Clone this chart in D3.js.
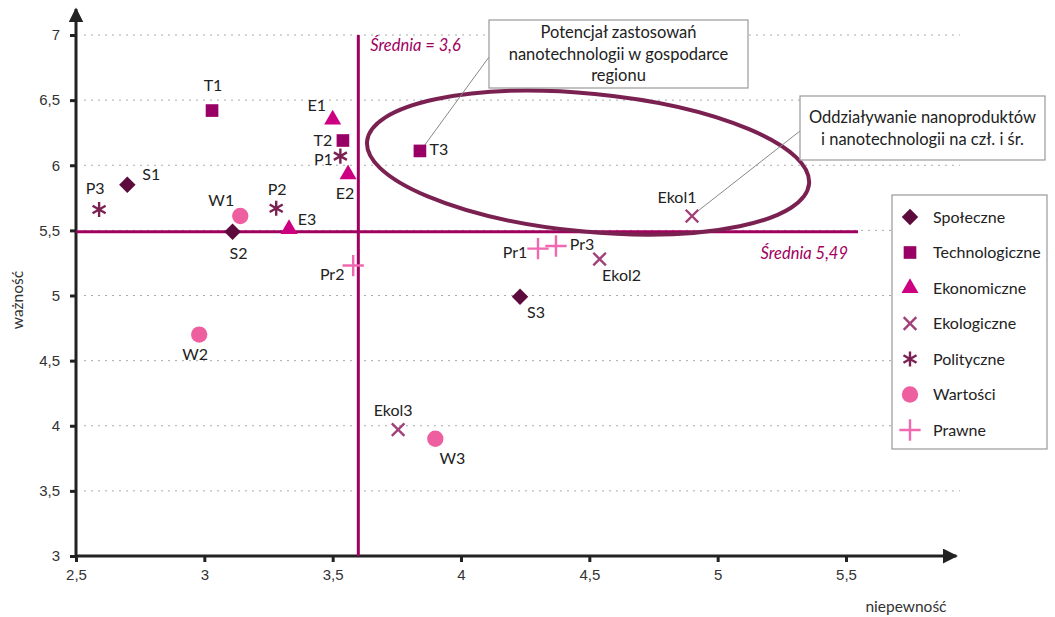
<!DOCTYPE html>
<html>
<head>
<meta charset="utf-8">
<script src="https://cdn.jsdelivr.net/npm/d3@7"></script>
<style>
  body { margin: 0; background: #fff; }
  svg { font-family: Lato, "Open Sans", sans-serif; }
  .tick text { font-size: 15px; fill: #333; }
</style>
</head>
<body>
<svg id="chart" width="1055" height="617"></svg>
<script>
// groups (legend order)
var groups = ["Społeczne", "Technologiczne", "Ekonomiczne", "Ekologiczne", "Polityczne", "Wartości", "Prawne"];

// points: label, group, niepewność, ważność
var labels = ["S1", "S2", "S3", "T1", "T2", "T3", "E1", "E2", "E3", "Ekol1", "Ekol2", "Ekol3",
              "P1", "P2", "P3", "W1", "W2", "W3", "Pr1", "Pr2", "Pr3"];
var pointGroups = [0, 0, 0, 1, 1, 1, 2, 2, 2, 3, 3, 3, 4, 4, 4, 5, 5, 5, 6, 6, 6];
var niepewnosc = [2.70, 3.11, 4.23, 3.03, 3.54, 3.84, 3.50, 3.56, 3.33, 4.90, 4.54, 3.755,
                  3.53, 3.28, 2.59, 3.14, 2.98, 3.90, 4.30, 3.58, 4.37];
var waznosc = [5.85, 5.49, 4.99, 6.42, 6.19, 6.11, 6.35, 5.93, 5.51, 5.61, 5.28, 3.97,
               6.07, 5.67, 5.66, 5.61, 4.70, 3.90, 5.36, 5.23, 5.38];

var xTicks = [2.5, 3, 3.5, 4, 4.5, 5, 5.5];
var yTicks = [3, 3.5, 4, 4.5, 5, 5.5, 6, 6.5, 7];
var meanX = 3.6;
var meanY = 5.49;

var callouts = [
  { lines: ["Potencjał zastosowań", "nanotechnologii w gospodarce", "regionu"], target: "T3" },
  { lines: ["Oddziaływanie nanoproduktów", "i nanotechnologii na czł. i śr."], target: "Ekol1" }
];

// styling
var colors = ["#5c0b3c", "#990066", "#cc0080", "#a3407a", "#7b2152", "#ee5fa0", "#f068b0"];
var meanColor = "#a0005e";
// label offsets (px) relative to the marker
var labelOffsets = {
  S1: [24, -10], S2: [6, 22], S3: [16, 16], T1: [1, -25], T2: [-20, 0], T3: [19, -2],
  E1: [-16, -14], E2: [-3, 19], E3: [18, -10], Ekol1: [-15, -19], Ekol2: [22, 16], Ekol3: [-5, -19],
  P1: [-17, 3], P2: [1, -19], P3: [-4, -21], W1: [-19, -16], W2: [-4, 20], W3: [17, 20],
  Pr1: [-23, 4], Pr2: [-21, 9], Pr3: [26, -2]
};

var svg = d3.select("#chart");
var x = d3.scaleLinear().domain([2.5, 5.5]).range([76, 846]);
var y = d3.scaleLinear().domain([3, 7]).range([556, 35]);
var fmt = function (d) { return String(d).replace(".", ","); };

var data = labels.map(function (l, i) {
  return { label: l, g: pointGroups[i], x: niepewnosc[i], y: waznosc[i] };
});

// grid
svg.append("g").selectAll("line")
  .data(yTicks.filter(function (d) { return d > 3; }))
  .enter().append("line")
  .attr("x1", 84).attr("x2", 960)
  .attr("y1", function (d) { return y(d); }).attr("y2", function (d) { return y(d); })
  .attr("stroke", "#aaa").attr("stroke-width", 1).attr("stroke-dasharray", "2,5");

// axes
var xAxis = d3.axisBottom(x).tickValues(xTicks).tickFormat(fmt).tickSize(6).tickPadding(7);
var yAxis = d3.axisLeft(y).tickValues(yTicks).tickFormat(fmt).tickSize(6).tickPadding(10);

var gX = svg.append("g").attr("transform", "translate(0," + y(3) + ")").call(xAxis);
var gY = svg.append("g").attr("transform", "translate(" + x(2.5) + ",0)").call(yAxis);
[gX, gY].forEach(function (g) {
  g.select(".domain").remove();
  g.selectAll(".tick line").attr("stroke", "#222").attr("stroke-width", 3);
});

svg.append("defs").append("marker")
  .attr("id", "arrow").attr("viewBox", "0 0 10 10").attr("refX", 9).attr("refY", 5)
  .attr("markerWidth", 5).attr("markerHeight", 5).attr("markerUnits", "strokeWidth")
  .attr("orient", "auto")
  .append("path").attr("d", "M0,0L10,5L0,10z").attr("fill", "#222");

svg.append("line")
  .attr("x1", x(2.5)).attr("x2", x(5.93)).attr("y1", y(3)).attr("y2", y(3))
  .attr("stroke", "#222").attr("stroke-width", 3).attr("marker-end", "url(#arrow)");
svg.append("line")
  .attr("x1", x(2.5)).attr("x2", x(2.5)).attr("y1", y(3)).attr("y2", y(7.2))
  .attr("stroke", "#222").attr("stroke-width", 3).attr("marker-end", "url(#arrow)");

svg.append("text").attr("x", 906).attr("y", 612).attr("text-anchor", "middle")
  .attr("font-size", 15.5).attr("fill", "#333").text("niepewność");
svg.append("text").attr("transform", "translate(23,300) rotate(-90)").attr("text-anchor", "middle")
  .attr("font-size", 15.5).attr("fill", "#333").text("ważność");

// mean lines
svg.append("line")
  .attr("x1", x(2.5)).attr("x2", 858).attr("y1", y(meanY)).attr("y2", y(meanY))
  .attr("stroke", meanColor).attr("stroke-width", 3);
svg.append("line")
  .attr("x1", x(meanX)).attr("x2", x(meanX)).attr("y1", y(7)).attr("y2", y(3))
  .attr("stroke", meanColor).attr("stroke-width", 3);
svg.append("text").attr("x", x(meanX) + 12).attr("y", y(7) + 16)
  .attr("font-size", 16.5).attr("font-style", "italic").attr("fill", meanColor)
  .text("Średnia = " + fmt(meanX));
svg.append("text").attr("x", 848).attr("y", y(meanY) + 27).attr("text-anchor", "end")
  .attr("font-size", 16.5).attr("font-style", "italic").attr("fill", meanColor)
  .text("Średnia " + fmt(meanY));

// ellipse around the group of interest
var ecx = x(4.495), ecy = y(6.02);
svg.append("ellipse")
  .attr("cx", 0).attr("cy", 0)
  .attr("rx", x(4.495) - x(3.63)).attr("ry", y(5.47) - y(6.0))
  .attr("transform", "translate(" + ecx + "," + ecy + ") rotate(5.5)")
  .attr("fill", "none").attr("stroke", "#7b2152").attr("stroke-width", 4);

// markers
var symbols = [
  d3.symbol().type(d3.symbolSquare).size(135),
  d3.symbol().type(d3.symbolSquare).size(160),
  d3.symbol().type(d3.symbolTriangle).size(125),
  d3.symbol().type(d3.symbolTimes).size(105),
  d3.symbol().type(d3.symbolAsterisk).size(160),
  d3.symbol().type(d3.symbolCircle).size(210),
  d3.symbol().type(d3.symbolPlus).size(150)
];
var stroked = [false, false, false, true, true, false, true];

function drawMarker(sel, g) {
  sel.append("path")
    .attr("d", symbols[g]())
    .attr("transform", g === 0 ? "rotate(45)" : null)
    .attr("fill", stroked[g] ? "none" : colors[g])
    .attr("stroke", stroked[g] ? colors[g] : "none")
    .attr("stroke-width", 2.4);
}

// callout boxes
var boxes = [
  { x: 489, y: 20, w: 259, h: 68, from: [489, 57] },
  { x: 800, y: 96, w: 245, h: 64, from: [800, 131] }
];
callouts.forEach(function (c, i) {
  var b = boxes[i];
  var p = data.find(function (d) { return d.label === c.target; });
  svg.append("line")
    .attr("x1", b.from[0]).attr("y1", b.from[1])
    .attr("x2", x(p.x) + 2).attr("y2", y(p.y) - 2)
    .attr("stroke", "#888").attr("stroke-width", 1);
  svg.append("rect").attr("x", b.x).attr("y", b.y).attr("width", b.w).attr("height", b.h)
    .attr("fill", "#fff").attr("stroke", "#999").attr("stroke-width", 1.2);
  var lh = 21.5;
  var y0 = b.y + b.h / 2 - (c.lines.length - 1) * lh / 2;
  c.lines.forEach(function (t, j) {
    svg.append("text").attr("x", b.x + b.w / 2).attr("y", y0 + j * lh)
      .attr("dy", "0.35em").attr("text-anchor", "middle")
      .attr("font-size", 16.5).attr("fill", "#222").text(t);
  });
});

var pts = svg.append("g").selectAll("g").data(data).enter().append("g")
  .attr("transform", function (d) { return "translate(" + x(d.x) + "," + y(d.y) + ")"; });
pts.each(function (d) { drawMarker(d3.select(this), d.g); });
pts.append("text")
  .attr("x", function (d) { return labelOffsets[d.label][0]; })
  .attr("y", function (d) { return labelOffsets[d.label][1]; })
  .attr("dy", "0.35em").attr("text-anchor", "middle")
  .attr("font-size", 16).attr("fill", "#222")
  .text(function (d) { return d.label; });

// legend
var lg = svg.append("g").attr("transform", "translate(892,195)");
lg.append("rect").attr("width", 155).attr("height", 254)
  .attr("fill", "#fff").attr("stroke", "#999").attr("stroke-width", 1.2);
var li = lg.selectAll("g.item").data(groups).enter().append("g").attr("class", "item")
  .attr("transform", function (d, i) { return "translate(18," + (22 + i * 35.5) + ")"; });
li.each(function (d, i) { drawMarker(d3.select(this), i); });
li.append("text").attr("x", 23).attr("dy", "0.35em")
  .attr("font-size", 16).attr("fill", "#222").text(function (d) { return d; });
</script>
</body>
</html>
